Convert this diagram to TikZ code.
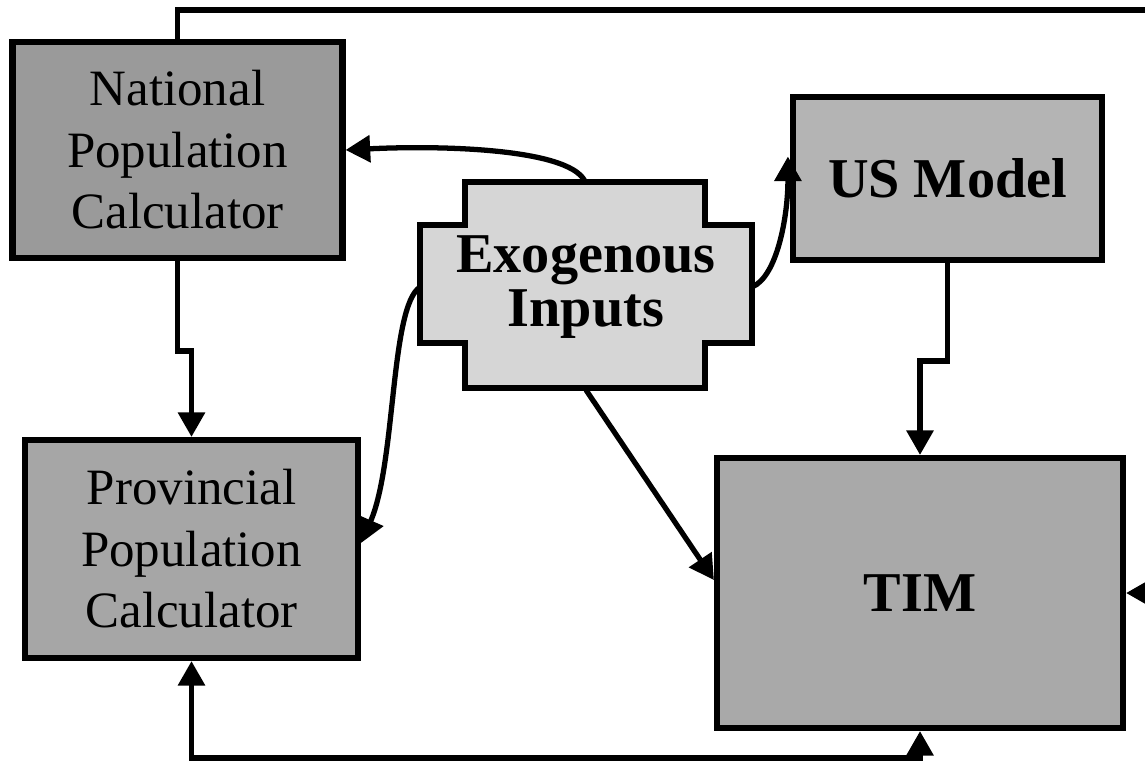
\documentclass[tikz,border=0pt]{standalone}
\usepackage{fontspec}
\setmainfont{Liberation Serif}
\usetikzlibrary{arrows.meta,calc}
\definecolor{natgray}{HTML}{9A9A9A}
\definecolor{provgray}{HTML}{A6A6A6}
\definecolor{usgray}{HTML}{B4B4B4}
\definecolor{timgray}{HTML}{A9A9A9}
\definecolor{exogray}{HTML}{D6D6D6}
\tikzset{
	box/.style 2 args={draw=black, line width=3.5pt, minimum width=#1*0.02cm, minimum height=#2*0.02cm, inner sep=0pt, align=center},
	plain/.style={font=\fontsize{29}{35}\selectfont},
	heavy/.style={font=\bfseries\fontsize{32}{31}\selectfont},
	arr/.style={line width=3pt, -{Triangle[length=14pt,width=15pt]}},
	dblarr/.style={line width=3pt, {Triangle[length=14pt,width=15pt]}-{Triangle[length=14pt,width=15pt]}}
}
\begin{document}
\begin{tikzpicture}[x=0.02cm,y=-0.02cm]
				\path[use as bounding box, clip] (0,0) rectangle (1145,761);
				\coordinate (loop) at (1165,10);
				\coordinate (base) at (0,758);
				%
				\filldraw[fill=exogray, line width=3.5pt] (465,182) -- (705,182) -- (705,225) -- (752,225) -- (752,343) -- (705,343) -- (705,388) -- (465,388) -- (465,343) -- (420,343) -- (420,225) -- (465,225) -- cycle;
				\node[minimum width=332*0.02cm, minimum height=206*0.02cm, inner sep=0pt, outer sep=0pt, align=center, heavy] (exo) at (586,287) {Exogenous\\Inputs};
				%
				\node[box={330}{216}, fill=natgray, plain] (nat) at (177.5,150) {National\\Population\\Calculator};
				\node[box={333}{218}, fill=provgray, plain] (prov) at (191.5,549) {Provincial\\Population\\Calculator};
				\node[box={309}{163}, fill=usgray, heavy] (us) at (947.5,178.5) {US Model};
				\node[box={406}{270}, fill=timgray, heavy] (tim) at (920,593) {TIM};
				%
				\draw[arr] (exo.north) .. controls +(-10,-35) and +(100,-5) .. (nat.east);
				\draw[arr] (exo.west) .. controls +(-30,20) and +(35,-80) .. ($(prov.east)+(0,-6)$);
				\draw[arr] (exo.east) .. controls +(25,-10) and +(0,60) .. ($(us.west)+(-2,-22)$);
				\draw[arr] (exo.south) -- ($(tim.west)+(0,-13)$);
				%
				\draw[arr] (nat.south) -- ++(0,90) -| (prov.north);
				\draw[arr] (us.south) -- ++(0,98) -| (tim.north);
				\draw[arr] (nat.north) |- (loop) |- (tim.east);
				\draw[dblarr] (prov.south) -- (prov.south |- base) -| (tim.south);
			\end{tikzpicture}
\end{document}
